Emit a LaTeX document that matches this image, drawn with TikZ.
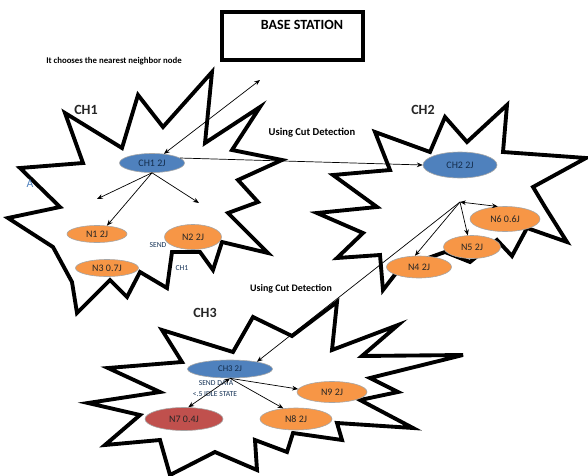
\documentclass[tikz,border=0pt]{standalone}
\usepackage{fontspec}
\setmainfont{Carlito}
\usetikzlibrary{positioning,arrows.meta,shapes.geometric,calc}

\definecolor{azulch}{RGB}{79,129,189}
\definecolor{laranja}{RGB}{247,150,70}
\definecolor{vermelho}{RGB}{192,80,77}
\definecolor{textoazul}{RGB}{31,73,125}

\tikzset{
  estrela/.style={draw=black, line width=3.3pt, fill=white, line join=miter, miter limit=6},
  no/.style={ellipse, inner sep=0pt, draw=gray!70, line width=0.5pt, text=black!85, font=\fontsize{8.5}{9}\selectfont},
  chefe/.style={no, fill=azulch, text=textoazul!60!black},
  folha/.style={no, fill=laranja},
  fraco/.style={no, fill=vermelho},
  seta/.style={-{Stealth[length=5pt,width=4pt]}, line width=0.6pt},
  duplaseta/.style={{Stealth[length=5pt,width=4pt]}-{Stealth[length=5pt,width=4pt]}, line width=0.6pt},
  rotulo/.style={font=\bfseries\fontsize{12}{13}\selectfont, text=black!85},
  nota/.style={font=\fontsize{6.5}{7}\selectfont, text=textoazul!70!black, inner sep=0pt}
}

\begin{document}
\begin{tikzpicture}[x=0.03cm, y=-0.03cm]
        \useasboundingbox (0,0) rectangle (588,476);

        % Clusters
        \draw[estrela] (65,113) -- (122,148) -- (138,95) -- (163,127) -- (212,72) -- (205,143) -- (260,107) -- (232,150) -- (282,160) -- (238,180) -- (258,202) -- (228,213) -- (268,253) -- (222,242) -- (213,270) -- (200,252) -- (172,252) -- (167,288) -- (140,272) -- (127,297) -- (110,280) -- (77,313) -- (72,282) -- (53,247) -- (8,218) -- (60,207) -- (20,168) -- (83,163) -- cycle;
        \draw[estrela] (375,132) -- (430,152) -- (445,117) -- (467,142) -- (507,105) -- (503,152) -- (586,158) -- (533,187) -- (545,207) -- (567,242) -- (527,228) -- (512,256) -- (497,240) -- (470,262) -- (445,252) -- (400,268) -- (383,290) -- (380,255) -- (337,258) -- (363,233) -- (317,213) -- (377,207) -- (333,175) -- (390,170) -- cycle;
        \draw[estrela] (162,330) -- (233,352) -- (253,317) -- (292,336) -- (337,302) -- (332,350) -- (398,325) -- (362,356) -- (463,355) -- (370,378) -- (398,392) -- (360,400) -- (413,428) -- (337,423) -- (342,440) -- (293,433) -- (287,452) -- (255,440) -- (257,470) -- (215,452) -- (170,475) -- (160,440) -- (105,445) -- (140,415) -- (88,403) -- (160,392) -- (108,368) -- (182,362) -- cycle;

        % Estacao base
        \node[draw, line width=3pt, minimum width=4.23cm, minimum height=1.44cm] (base) at (292.5,36) {};
        \node[font=\bfseries\fontsize{12}{13}\selectfont] (basetxt) at (302,25) {BASE STATION};

        % Textos
        \node[font=\bfseries\fontsize{7.5}{8}\selectfont] (dica) at (114,61) {It chooses the nearest neighbor node};
        \node[rotulo] (rch1) at (86,110) {CH1};
        \node[rotulo] (rch2) at (423,110) {CH2};
        \node[rotulo] (rch3) at (205,313) {CH3};
        \node[font=\bfseries\fontsize{9}{10}\selectfont] (corte1) at (312,133) {Using Cut Detection};
        \node[font=\bfseries\fontsize{8.5}{9}\selectfont] (corte2) at (291,289) {Using Cut Detection};
        \node[font=\fontsize{10}{11}\selectfont, text=azulch] (letraA) at (30,184) {A};
        \node[nota] (send1) at (158,245) {SEND};
        \node[nota] (txtch1) at (182,268) {CH1};
        \node[nota] (senddata) at (216,383) {SEND DATA};
        \node[nota] (idle) at (215,394) {<.5 IDLE STATE};

        % Cluster heads e nos
        \node[chefe, minimum width=1.95cm, minimum height=0.57cm] (ch1) at (152,163) {CH1 2J};
        \node[folha, minimum width=1.8cm, minimum height=0.51cm] (n1) at (97,234) {N1 2J};
        \node[folha, minimum width=1.71cm, minimum height=0.75cm] (n2) at (193,237) {N2 2J};
        \node[folha, minimum width=1.89cm, minimum height=0.51cm] (n3) at (107,268) {N3 0.7J};

        \node[chefe, minimum width=2.22cm, minimum height=0.78cm] (ch2) at (460,165) {CH2 2J};
        \node[folha, minimum width=2.1cm, minimum height=0.75cm] (n6) at (505,219) {N6 0.6J};
        \node[folha, minimum width=1.71cm, minimum height=0.69cm] (n5) at (472,247) {N5 2J};
        \node[folha, minimum width=1.95cm, minimum height=0.66cm] (n4) at (419,267) {N4 2J};

        \node[chefe, minimum width=2.55cm, minimum height=0.54cm, font=\fontsize{7.5}{8}\selectfont] (ch3) at (230,369) {CH3 2J};
        \node[fraco, minimum width=2.34cm, minimum height=0.69cm] (n7) at (184,419) {N7 0.4J};
        \node[folha, minimum width=2.16cm, minimum height=0.66cm] (n8) at (296,419) {N8 2J};
        \node[folha, minimum width=2.1cm, minimum height=0.63cm] (n9) at (332,392) {N9 2J};

        % Pontos soltos
        \coordinate (topo) at (260,80);
        \coordinate (esq) at (97,199);
        \coordinate (dir) at (199,203);
        \coordinate (hub) at (460,202);

        % Ligacoes
        \draw[duplaseta] (ch1) -- (topo);
        \draw[seta] (ch1.10) -- (ch2.west);
        \draw[seta] (ch1.south) -- (esq);
        \draw[seta] (ch1.south) -- (dir);
        \draw[seta] (ch1.south) -- (n1.40);

        \draw[duplaseta] (hub) -- (n6.120);
        \draw[seta] (hub) -- (n5.110);
        \draw[seta] (hub) -- (n4.110);
        \draw[seta] (hub) -- (ch3.15);

        \draw[duplaseta] (ch3.south) -- (n7.70);
        \draw[seta] (ch3.south) -- (n9.175);
        \draw[seta] (ch3.south) -- (n8.140);
\end{tikzpicture}
\end{document}
